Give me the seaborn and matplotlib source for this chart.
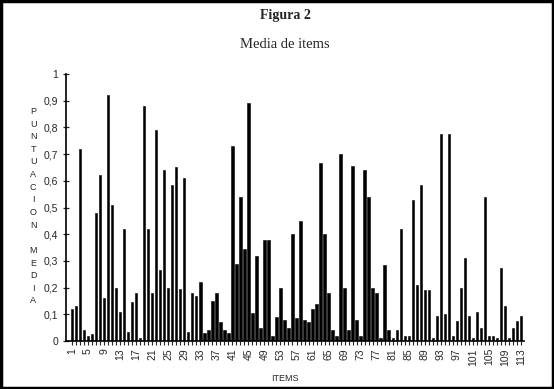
import matplotlib
matplotlib.use("Agg")
import matplotlib.pyplot as plt
import seaborn as sns
import pandas as pd
from matplotlib.patches import Rectangle

# Mean score per item
items = list(range(1, 114))
media = [
    0.12, 0.13, 0.72, 0.04, 0.02, 0.025, 0.48, 0.62, 0.16, 0.92,
    0.51, 0.20, 0.11, 0.42, 0.035, 0.145, 0.18, 0.01, 0.88, 0.42,
    0.18, 0.79, 0.265, 0.64, 0.20, 0.585, 0.65, 0.195, 0.61, 0.035,
    0.18, 0.17, 0.22, 0.03, 0.04, 0.15, 0.18, 0.07, 0.04, 0.03,
    0.73, 0.29, 0.54, 0.345, 0.89, 0.105, 0.32, 0.05, 0.38, 0.38,
    0.02, 0.09, 0.20, 0.08, 0.05, 0.40, 0.085, 0.45, 0.08, 0.07,
    0.12, 0.14, 0.665, 0.40, 0.18, 0.04, 0.02, 0.70, 0.20, 0.04,
    0.655, 0.08, 0.02, 0.64, 0.54, 0.20, 0.18, 0.01, 0.285, 0.04,
    0.01, 0.04, 0.42, 0.02, 0.02, 0.53, 0.21, 0.585, 0.19, 0.19,
    0.01, 0.095, 0.775, 0.10, 0.775, 0.02, 0.075, 0.20, 0.31, 0.095,
    0.01, 0.11, 0.05, 0.54, 0.02, 0.02, 0.01, 0.275, 0.13, 0.01,
    0.05, 0.075, 0.095,
]
tick_items = list(range(1, 114, 4))
yticks = [i / 10 for i in range(11)]
ytick_labels = ["0"] + ["0,%d" % i for i in range(1, 10)] + ["1"]

df = pd.DataFrame({"item": items, "media": media})

sns.set_style("ticks")
plt.rcParams["font.family"] = ["Liberation Sans", "DejaVu Sans"]

fig = plt.figure(figsize=(5.54, 3.89), dpi=100)
ax = fig.add_axes([0.119, 0.123, 0.827, 0.687])

sns.barplot(data=df, x="item", y="media", color="black", width=0.62,
            errorbar=None, saturation=1, linewidth=0.4, edgecolor="black", ax=ax)

ax.set_xlim(-1.5, 112.75)
ax.set_ylim(0, 1)
ax.set_xticks([i - 1 for i in tick_items])
ax.set_xticklabels([str(i) for i in tick_items], rotation=90, fontsize=7.5)
ax.set_xticks(range(len(items)), minor=True)
ax.set_yticks(yticks)
ax.set_yticklabels(ytick_labels, fontsize=7.5)
ax.tick_params(axis="x", which="both", length=3, width=0.8, direction="out", pad=2)
ax.tick_params(axis="y", length=5, width=0.9, direction="inout", pad=3)
ax.set_xlabel("")
ax.set_ylabel("")
for s in ["top", "right"]:
    ax.spines[s].set_visible(False)
for s in ["left", "bottom"]:
    ax.spines[s].set_linewidth(1.2)
    ax.spines[s].set_color("black")

# Titles
fig.text(0.515, 0.960, "Figura 2", ha="center", va="center", fontsize=10,
         fontweight="bold", family=["Liberation Serif", "DejaVu Serif"])
fig.text(0.515, 0.885, "Media de items", ha="center", va="center", fontsize=10.5,
         family=["Liberation Serif", "DejaVu Serif"])

# Stacked vertical y label
ylab = "\n".join(list("PUNTUACION") + [" "] + list("MEDIA"))
fig.text(0.060, 0.470, ylab, ha="center", va="center", fontsize=6.5,
         linespacing=1.52)
fig.text(0.515, 0.028, "ITEMS", ha="center", va="center", fontsize=6.5)

# Frame around the figure
fig.patches.append(Rectangle((0.002, 0.003), 0.996, 0.994, transform=fig.transFigure,
                             fill=False, edgecolor="black", linewidth=2.5))

fig.savefig("out.png", dpi=100)
